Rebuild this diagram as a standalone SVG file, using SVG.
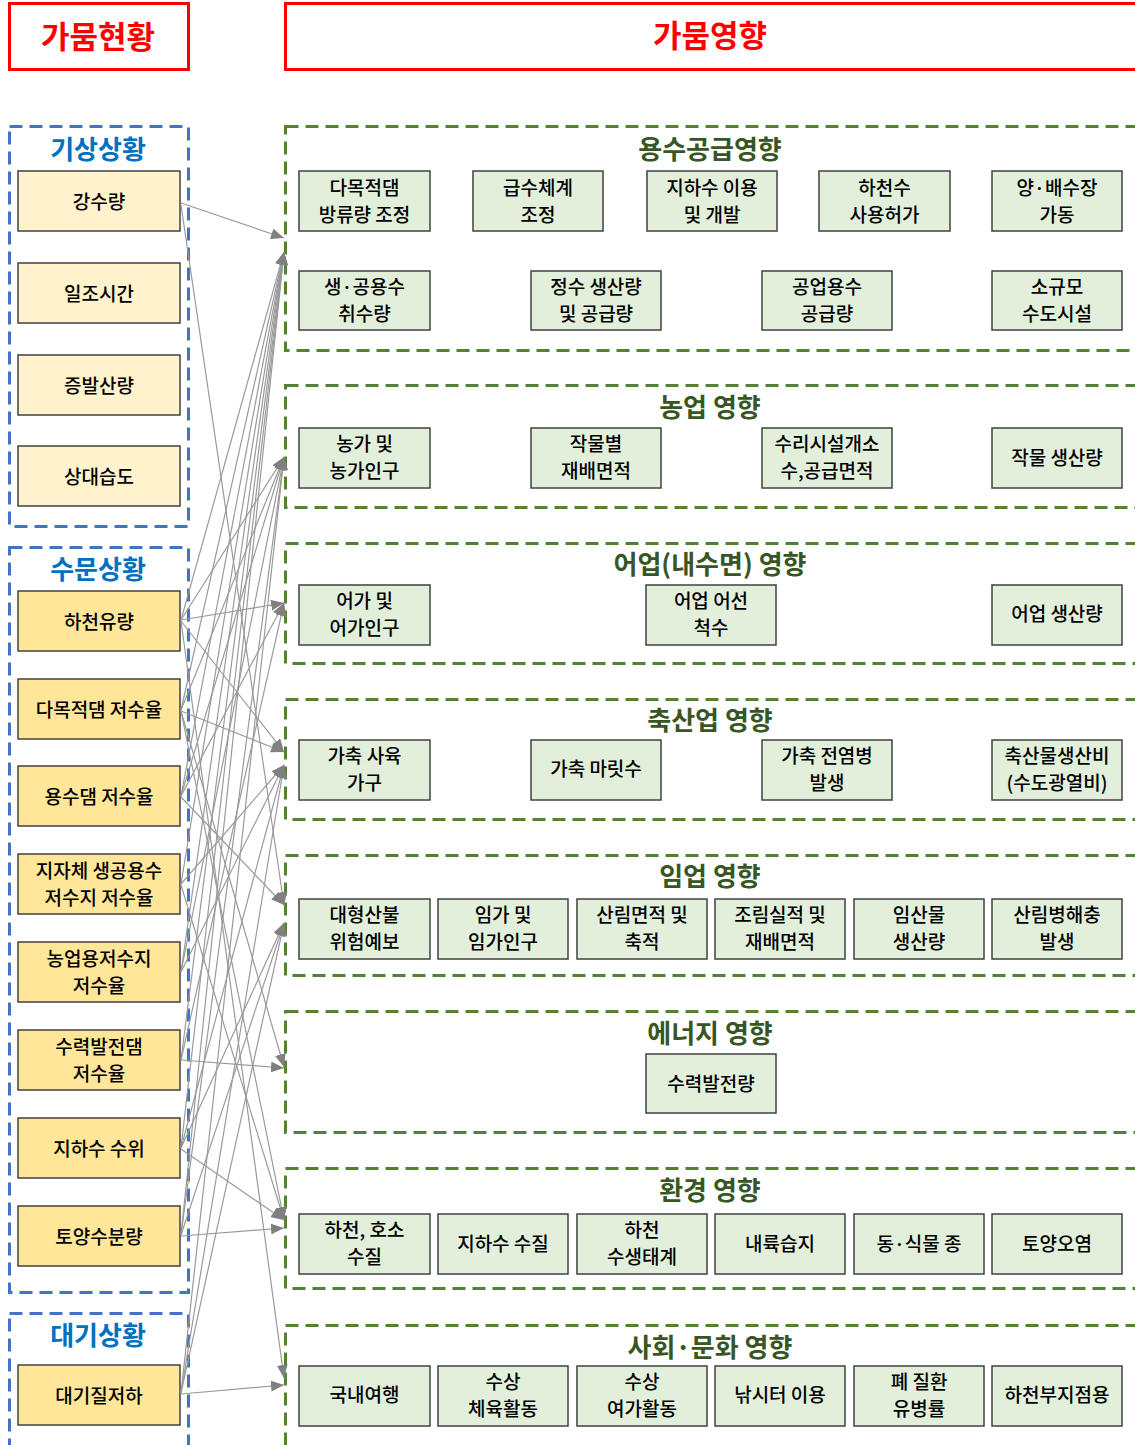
<svg xmlns="http://www.w3.org/2000/svg" width="1135" height="1445" viewBox="0 0 1135 1445">
<style>
text{font-family:"Noto Sans CJK KR","Noto Sans",sans-serif;text-anchor:middle;dominant-baseline:central;}
.hdr{fill:none;stroke:#FF0000;stroke-width:3;}
.hdrt{fill:#FF0000;font-size:31px;font-weight:bold;}
.bp{fill:none;stroke:#4472C4;stroke-width:3;stroke-dasharray:13 7;}
.gp{fill:none;stroke:#548235;stroke-width:3;stroke-dasharray:13 7;}
.bt{fill:#0070C0;font-size:26px;font-weight:bold;}
.gt{fill:#375623;font-size:26px;font-weight:bold;}
.n1{fill:#FFF2CC;stroke:#404040;stroke-width:1.5;}
.n2{fill:#FFE699;stroke:#404040;stroke-width:1.5;}
.ng{fill:#E2EFDA;stroke:#404040;stroke-width:1.5;}
.nt{fill:#000;font-size:19px;font-weight:500;}
.cn{stroke:#9A9A9A;stroke-width:1.2;fill:none;marker-end:url(#ah);}
</style>
<defs>
<marker id="ah" viewBox="0 0 12 10" refX="12" refY="5" markerWidth="13" markerHeight="11" markerUnits="userSpaceOnUse" orient="auto">
<path d="M0,0 L12,5 L0,10 z" fill="#808080"/>
</marker>
</defs>
<rect width="1135" height="1445" fill="#fff"/>

<g id="header-status"><rect class="hdr" x="9.5" y="3.5" width="179" height="66"/><text class="hdrt" x="98" y="34">가뭄현황</text></g>
<g id="header-impact"><rect class="hdr" x="285.5" y="3.5" width="860" height="66"/><text class="hdrt" x="710" y="33">가뭄영향</text></g>

<!-- left panels -->
<g id="panel-weather"><rect class="bp" x="9.5" y="126.5" width="179" height="400"/><text class="bt" x="98" y="147">기상상황</text></g>
<g id="panel-hydro"><rect class="bp" x="9.5" y="547.5" width="179" height="745"/><text class="bt" x="98" y="567">수문상황</text></g>
<g id="panel-air"><rect class="bp" x="9.5" y="1313.5" width="179" height="150"/><text class="bt" x="98" y="1333">대기상황</text></g>

<g id="s-rain"><rect class="n1" x="18" y="171" width="162" height="60"/><text class="nt" x="99" y="200">강수량</text></g>
<g id="s-sun"><rect class="n1" x="18" y="263" width="162" height="60"/><text class="nt" x="99" y="292">일조시간</text></g>
<g id="s-evap"><rect class="n1" x="18" y="355" width="162" height="60"/><text class="nt" x="99" y="384">증발산량</text></g>
<g id="s-hum"><rect class="n1" x="18" y="446" width="162" height="60"/><text class="nt" x="99" y="475">상대습도</text></g>

<g id="s-flow"><rect class="n2" x="18" y="591" width="162" height="60"/><text class="nt" x="99" y="620">하천유량</text></g>
<g id="s-mdam"><rect class="n2" x="18" y="679" width="162" height="60"/><text class="nt" x="99" y="708">다목적댐 저수율</text></g>
<g id="s-wdam"><rect class="n2" x="18" y="766" width="162" height="60"/><text class="nt" x="99" y="795">용수댐 저수율</text></g>
<g id="s-local"><rect class="n2" x="18" y="854" width="162" height="60"/><text class="nt" x="99" y="869">지자체 생공용수</text><text class="nt" x="99" y="896">저수지 저수율</text></g>
<g id="s-agr"><rect class="n2" x="18" y="942" width="162" height="60"/><text class="nt" x="99" y="957">농업용저수지</text><text class="nt" x="99" y="984">저수율</text></g>
<g id="s-hydro"><rect class="n2" x="18" y="1030" width="162" height="60"/><text class="nt" x="99" y="1045">수력발전댐</text><text class="nt" x="99" y="1072">저수율</text></g>
<g id="s-gw"><rect class="n2" x="18" y="1118" width="162" height="60"/><text class="nt" x="99" y="1147">지하수 수위</text></g>
<g id="s-soil"><rect class="n2" x="18" y="1206" width="162" height="60"/><text class="nt" x="99" y="1235">토양수분량</text></g>
<g id="s-airq"><rect class="n2" x="18" y="1365" width="162" height="60"/><text class="nt" x="99" y="1394">대기질저하</text></g>

<!-- right panels -->
<g id="p-supply"><rect class="gp" x="285.5" y="126.5" width="870" height="224"/><text class="gt" x="710" y="147">용수공급영향</text>
<rect class="ng" x="299" y="171" width="131" height="60"/><text class="nt" x="364.5" y="186">다목적댐</text><text class="nt" x="364.5" y="213">방류량 조정</text>
<rect class="ng" x="473" y="171" width="130" height="60"/><text class="nt" x="538" y="186">급수체계</text><text class="nt" x="538" y="213">조정</text>
<rect class="ng" x="647" y="171" width="130" height="60"/><text class="nt" x="712" y="186">지하수 이용</text><text class="nt" x="712" y="213">및 개발</text>
<rect class="ng" x="819" y="171" width="131" height="60"/><text class="nt" x="884.5" y="186">하천수</text><text class="nt" x="884.5" y="213">사용허가</text>
<rect class="ng" x="992" y="171" width="130" height="60"/><text class="nt" x="1057" y="186">양·배수장</text><text class="nt" x="1057" y="213">가동</text>
<rect class="ng" x="299" y="271" width="131" height="59"/><text class="nt" x="364.5" y="285">생·공용수</text><text class="nt" x="364.5" y="312">취수량</text>
<rect class="ng" x="531" y="271" width="130" height="59"/><text class="nt" x="596" y="285">정수 생산량</text><text class="nt" x="596" y="312">및 공급량</text>
<rect class="ng" x="762" y="271" width="130" height="59"/><text class="nt" x="827" y="285">공업용수</text><text class="nt" x="827" y="312">공급량</text>
<rect class="ng" x="992" y="271" width="130" height="59"/><text class="nt" x="1057" y="285">소규모</text><text class="nt" x="1057" y="312">수도시설</text>
</g>

<g id="p-agri"><rect class="gp" x="285.5" y="385.5" width="870" height="122"/><text class="gt" x="710" y="405">농업 영향</text>
<rect class="ng" x="299" y="428" width="131" height="60"/><text class="nt" x="364.5" y="442">농가 및</text><text class="nt" x="364.5" y="469">농가인구</text>
<rect class="ng" x="531" y="428" width="130" height="60"/><text class="nt" x="596" y="442">작물별</text><text class="nt" x="596" y="469">재배면적</text>
<rect class="ng" x="762" y="428" width="130" height="60"/><text class="nt" x="827" y="442">수리시설개소</text><text class="nt" x="827" y="469">수,공급면적</text>
<rect class="ng" x="992" y="428" width="130" height="60"/><text class="nt" x="1057" y="456">작물 생산량</text>
</g>

<g id="p-fish"><rect class="gp" x="285.5" y="543.5" width="870" height="120"/><text class="gt" x="710" y="562">어업(내수면) 영향</text>
<rect class="ng" x="299" y="585" width="131" height="60"/><text class="nt" x="364.5" y="599">어가 및</text><text class="nt" x="364.5" y="626">어가인구</text>
<rect class="ng" x="646" y="585" width="130" height="60"/><text class="nt" x="711" y="599">어업 어선</text><text class="nt" x="711" y="626">척수</text>
<rect class="ng" x="992" y="585" width="130" height="60"/><text class="nt" x="1057" y="612">어업 생산량</text>
</g>

<g id="p-live"><rect class="gp" x="285.5" y="699.5" width="870" height="120"/><text class="gt" x="710" y="718">축산업 영향</text>
<rect class="ng" x="299" y="740" width="131" height="60"/><text class="nt" x="364.5" y="754">가축 사육</text><text class="nt" x="364.5" y="781">가구</text>
<rect class="ng" x="531" y="740" width="130" height="60"/><text class="nt" x="596" y="767">가축 마릿수</text>
<rect class="ng" x="762" y="740" width="130" height="60"/><text class="nt" x="827" y="754">가축 전염병</text><text class="nt" x="827" y="781">발생</text>
<rect class="ng" x="992" y="740" width="130" height="60"/><text class="nt" x="1057" y="754">축산물생산비</text><text class="nt" x="1057" y="781">(수도광열비)</text>
</g>

<g id="p-forest"><rect class="gp" x="285.5" y="855.5" width="870" height="120"/><text class="gt" x="710" y="874">임업 영향</text>
<rect class="ng" x="299" y="899" width="131" height="60"/><text class="nt" x="364.5" y="913">대형산불</text><text class="nt" x="364.5" y="940">위험예보</text>
<rect class="ng" x="438" y="899" width="130" height="60"/><text class="nt" x="503" y="913">임가 및</text><text class="nt" x="503" y="940">임가인구</text>
<rect class="ng" x="577" y="899" width="130" height="60"/><text class="nt" x="642" y="913">산림면적 및</text><text class="nt" x="642" y="940">축적</text>
<rect class="ng" x="715" y="899" width="130" height="60"/><text class="nt" x="780" y="913">조림실적 및</text><text class="nt" x="780" y="940">재배면적</text>
<rect class="ng" x="854" y="899" width="130" height="60"/><text class="nt" x="919" y="913">임산물</text><text class="nt" x="919" y="940">생산량</text>
<rect class="ng" x="992" y="899" width="130" height="60"/><text class="nt" x="1057" y="913">산림병해충</text><text class="nt" x="1057" y="940">발생</text>
</g>

<g id="p-energy"><rect class="gp" x="285.5" y="1011.5" width="870" height="121"/><text class="gt" x="710" y="1031">에너지 영향</text>
<rect class="ng" x="646" y="1054" width="130" height="59"/><text class="nt" x="711" y="1082">수력발전량</text>
</g>

<g id="p-env"><rect class="gp" x="285.5" y="1168.5" width="870" height="120"/><text class="gt" x="710" y="1188">환경 영향</text>
<rect class="ng" x="299" y="1214" width="131" height="60"/><text class="nt" x="364.5" y="1228">하천, 호소</text><text class="nt" x="364.5" y="1255">수질</text>
<rect class="ng" x="438" y="1214" width="130" height="60"/><text class="nt" x="503" y="1242">지하수 수질</text>
<rect class="ng" x="577" y="1214" width="130" height="60"/><text class="nt" x="642" y="1228">하천</text><text class="nt" x="642" y="1255">수생태계</text>
<rect class="ng" x="715" y="1214" width="130" height="60"/><text class="nt" x="780" y="1242">내륙습지</text>
<rect class="ng" x="854" y="1214" width="130" height="60"/><text class="nt" x="919" y="1242">동·식물 종</text>
<rect class="ng" x="992" y="1214" width="130" height="60"/><text class="nt" x="1057" y="1242">토양오염</text>
</g>

<g id="p-social"><rect class="gp" x="285.5" y="1325.5" width="870" height="140"/><text class="gt" x="710" y="1345">사회·문화 영향</text>
<rect class="ng" x="299" y="1366" width="131" height="60"/><text class="nt" x="364.5" y="1393">국내여행</text>
<rect class="ng" x="438" y="1366" width="130" height="60"/><text class="nt" x="503" y="1380">수상</text><text class="nt" x="503" y="1407">체육활동</text>
<rect class="ng" x="577" y="1366" width="130" height="60"/><text class="nt" x="642" y="1380">수상</text><text class="nt" x="642" y="1407">여가활동</text>
<rect class="ng" x="715" y="1366" width="130" height="60"/><text class="nt" x="780" y="1393">낚시터 이용</text>
<rect class="ng" x="854" y="1366" width="130" height="60"/><text class="nt" x="919" y="1380">폐 질환</text><text class="nt" x="919" y="1407">유병률</text>
<rect class="ng" x="992" y="1366" width="130" height="60"/><text class="nt" x="1057" y="1393">하천부지점용</text>
</g>

<g id="connectors">
<path class="cn" d="M181,203 L284,238"/>
<path class="cn" d="M181,205 L284,905"/>
<path class="cn" d="M181,620 L284,252"/>
<path class="cn" d="M181,620 L284,457"/>
<path class="cn" d="M181,620 L284,603"/>
<path class="cn" d="M181,621 L284,752"/>
<path class="cn" d="M181,621 L284,1378"/>
<path class="cn" d="M181,710 L284,252"/>
<path class="cn" d="M181,710 L284,457"/>
<path class="cn" d="M181,711 L284,752"/>
<path class="cn" d="M181,711 L284,1067"/>
<path class="cn" d="M181,711 L284,1220"/>
<path class="cn" d="M181,796 L284,252"/>
<path class="cn" d="M181,796 L284,457"/>
<path class="cn" d="M181,796 L284,603"/>
<path class="cn" d="M181,797 L284,905"/>
<path class="cn" d="M181,884 L284,252"/>
<path class="cn" d="M181,884 L284,765"/>
<path class="cn" d="M181,885 L284,1220"/>
<path class="cn" d="M181,972 L284,252"/>
<path class="cn" d="M181,972 L284,457"/>
<path class="cn" d="M181,972 L284,765"/>
<path class="cn" d="M181,1060 L284,252"/>
<path class="cn" d="M181,1060 L284,1068"/>
<path class="cn" d="M181,1060 L284,603"/>
<path class="cn" d="M181,1148 L284,252"/>
<path class="cn" d="M181,1148 L284,923"/>
<path class="cn" d="M181,1149 L284,1220"/>
<path class="cn" d="M181,1148 L284,765"/>
<path class="cn" d="M181,1235 L284,252"/>
<path class="cn" d="M181,1235 L284,457"/>
<path class="cn" d="M181,1235 L284,923"/>
<path class="cn" d="M181,1236 L284,1228"/>
<path class="cn" d="M181,1393 L284,457"/>
<path class="cn" d="M181,1393 L284,765"/>
<path class="cn" d="M181,1393 L284,923"/>
<path class="cn" d="M181,1394 L284,1385"/>
</g>
</svg>
